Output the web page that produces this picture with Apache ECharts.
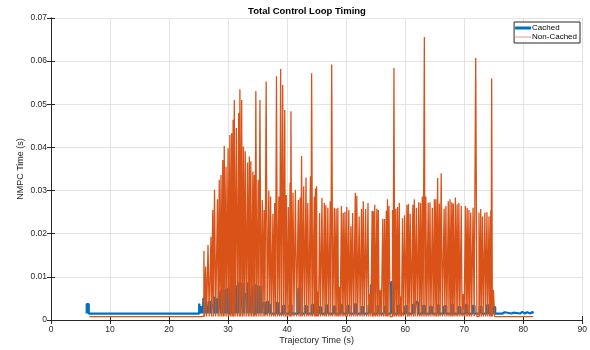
<!DOCTYPE html>
<html><head><meta charset="utf-8">
<script src="https://cdn.jsdelivr.net/npm/echarts@6/dist/echarts.min.js"></script>
<style>html,body{margin:0;padding:0;background:#fff}#c{width:590px;height:350px}</style>
</head><body><div id="c"></div>
<script>
// ---- data (seconds, seconds) ----
const xTickValues = [0, 10, 20, 30, 40, 50, 60, 70, 80, 90];
const yTickValues = [0, 0.01, 0.02, 0.03, 0.04, 0.05, 0.06, 0.07];

// Cached: baseline level, start/end of trace, spikes [time, value]
const cachedBase = 0.0015;
const cachedStart = 6.05;
const cachedEnd = 81.7;
const cachedSpikes = [
  [6.05,0.0037],[25.1,0.0038],[25.4,0.0030],[25.8,0.0050],[26.2,0.0030],[26.7,0.0042],[27.2,0.0035],
  [27.6,0.0054],[27.9,0.0048],[28.5,0.0065],[28.8,0.0070],[29.1,0.0072],[29.4,0.0070],[29.7,0.0072],
  [30.4,0.0088],[30.7,0.0091],[31.0,0.0080],[31.3,0.0078],[31.75,0.0085],[32.3,0.0083],[32.8,0.0060],
  [33.2,0.0085],[33.6,0.0055],[34.0,0.0075],[34.7,0.0083],[35.0,0.0080],[35.3,0.0077],[35.8,0.0040],
  [36.5,0.0042],[36.9,0.0035],[38.1,0.0040],[39.3,0.0033],[40.4,0.0035],[41.9,0.0073],[43.0,0.0032],
  [44.2,0.0035],[45.4,0.0030],[46.6,0.0034],[47.8,0.0031],[49.0,0.0035],[50.2,0.0033],[51.4,0.0036],
  [52.6,0.0030],[53.8,0.0034],[54.2,0.0081],[55.3,0.0033],[56.4,0.0031],[57.6,0.0088],[58.8,0.0034],
  [60.0,0.0032],[61.2,0.0035],[61.8,0.0042],[63.0,0.0033],[64.2,0.0031],[65.4,0.0034],[66.6,0.0032],
  [67.8,0.0035],[69.0,0.0030],[70.2,0.0035],[71.4,0.0033],[72.6,0.0031],[73.8,0.0034],[74.9,0.0030],
  [76.5,0.0018],[78.0,0.0017],[79.5,0.0019],[80.3,0.0018],[81.2,0.0019]
];

// Non-Cached
const nonCachedBase = 0.0008;
const nonCachedStart = 6.5;
const nonCachedEnd = 81.7;
const nonCachedSpikes = [
  [25.9,0.0160],[26.2,0.0124],[26.6,0.0174],[27.1,0.0193],[27.4,0.0255],[27.7,0.0302],[28.2,0.0280],
  [28.5,0.0325],[28.8,0.0336],[29.1,0.0371],[29.35,0.0404],[29.65,0.0355],[30.0,0.0398],[30.3,0.0429],
  [30.6,0.0433],[30.85,0.0464],[31.05,0.0510],[31.4,0.0445],[31.8,0.0480],[32.0,0.0535],[32.3,0.0510],
  [32.6,0.0402],[32.9,0.0391],[33.3,0.0365],[33.6,0.0379],[33.85,0.0368],[34.2,0.0344],[34.45,0.0336],
  [34.7,0.0531],[35.1,0.0325],[35.4,0.0510],[35.8,0.0278],[36.1,0.0255],[36.45,0.0553],[36.9,0.0300],
  [37.2,0.0286],[37.6,0.0246],[37.9,0.0271],[38.2,0.0565],[38.6,0.0286],[38.9,0.0582],[39.25,0.0545],
  [39.6,0.0487],[39.85,0.0290],[40.2,0.0262],[40.5,0.0318],[40.65,0.0484],[41.0,0.0295],[41.4,0.0302],
  [41.9,0.0278],[42.2,0.0284],[42.45,0.0380],[42.8,0.0310],[43.2,0.0330],[43.5,0.0271],[43.95,0.0333],
  [44.15,0.0572],[44.6,0.0286],[44.8,0.0305],[45.0,0.0310],[45.2,0.0066],[45.5,0.0248],[45.9,0.0283],
  [46.3,0.0271],[46.55,0.0266],[46.9,0.0260],[47.3,0.0275],[47.55,0.0592],[48.0,0.0260],[48.3,0.0258],
  [48.6,0.0260],[48.85,0.0077],[49.2,0.0264],[49.5,0.0248],[49.8,0.0251],[50.1,0.0262],[50.45,0.0255],
  [50.8,0.0217],[51.1,0.0248],[51.55,0.0295],[51.8,0.0288],[52.2,0.0240],[52.6,0.0257],[52.9,0.0275],
  [53.3,0.0257],[53.7,0.0271],[54.05,0.0060],[54.4,0.0253],[54.6,0.0252],[54.85,0.0267],[55.2,0.0258],
  [55.45,0.0255],[55.8,0.0070],[56.2,0.0234],[56.5,0.0234],[56.8,0.0253],[57.0,0.0280],[57.25,0.0264],
  [57.85,0.0255],[58.1,0.0584],[58.4,0.0258],[58.7,0.0262],[59.0,0.0271],[59.25,0.0055],[59.55,0.0236],
  [59.9,0.0243],[60.3,0.0267],[60.55,0.0269],[60.85,0.0246],[61.3,0.0267],[61.55,0.0280],[61.9,0.0260],
  [62.3,0.0273],[62.6,0.0271],[62.9,0.0286],[63.25,0.0656],[63.5,0.0286],[63.9,0.0271],[64.2,0.0273],
  [64.6,0.0260],[64.95,0.0280],[65.2,0.0280],[65.5,0.0329],[65.8,0.0270],[66.1,0.0340],[66.6,0.0258],
  [66.9,0.0264],[67.3,0.0275],[67.6,0.0280],[67.9,0.0273],[68.15,0.0270],[68.5,0.0284],[68.8,0.0268],
  [69.1,0.0271],[69.5,0.0264],[69.85,0.0060],[70.2,0.0264],[70.5,0.0260],[70.8,0.0255],[71.1,0.0249],
  [71.5,0.0260],[71.95,0.0607],[72.5,0.0249],[72.8,0.0257],[73.1,0.0240],[73.5,0.0249],[73.85,0.0250],
  [74.2,0.0240],[74.5,0.0255],[74.65,0.0560],[74.95,0.0070]
];

// ---- build step traces from the read values ----
// each spike holds its value for a short time (never longer than `frac` of the gap to
// the next spike), then drops back to the baseline
function trace(start, end, base, spikes, pulse, frac) {
  const d = [[start, base]];
  spikes.forEach(function (s, i) {
    d.push([s[0], s[1]]);
    const next = i + 1 < spikes.length ? spikes[i + 1][0] : end;
    d.push([s[0] + Math.min(pulse, (next - s[0]) * frac), base]);
  });
  d.push([end, base]);
  return d;
}
const BLUE = '#0072BD', ORANGE = '#D95319', AX = '#262626';
const cachedData = trace(cachedStart, cachedEnd, cachedBase, cachedSpikes, 0.35, 0.92);
const nonCachedData = trace(nonCachedStart, nonCachedEnd, nonCachedBase, nonCachedSpikes, 0.2, 0.4);

const font = '"Liberation Sans", Arial, Helvetica, sans-serif';
const chart = echarts.init(document.getElementById('c'), null, {renderer: 'canvas'});
const xMin = xTickValues[0], xMax = xTickValues[xTickValues.length - 1];
const xInt = xTickValues[1] - xTickValues[0];
const yMin = yTickValues[0], yMax = yTickValues[yTickValues.length - 1];
const yInt = yTickValues[1] - yTickValues[0];

chart.setOption({
  animation: false,
  backgroundColor: '#fff',
  textStyle: {fontFamily: font},
  title: {
    text: 'Total Control Loop Timing',
    left: 307, top: 6, padding: 0, textAlign: 'center',
    textStyle: {fontSize: 9.5, fontWeight: 'bold', color: '#000', fontFamily: font}
  },
  legend: {
    right: 10, top: 22, orient: 'vertical',
    itemWidth: 16, itemHeight: 3, itemGap: 1,
    padding: [2, 3, 2, 1],
    borderColor: AX, borderWidth: 1, backgroundColor: '#fff',
    textStyle: {fontSize: 8, color: '#000', padding: [0, 0, 0, -4], fontFamily: font},
    data: [
      {name: 'Cached', icon: 'rect', itemStyle: {color: BLUE}},
      {name: 'Non-Cached', icon: 'path://M0,1H16V2H0Z', itemStyle: {color: '#EC9A78'}}
    ]
  },
  grid: {left: 51, right: 6, top: 18, bottom: 30, show: false},
  xAxis: [{
    type: 'value', min: xMin, max: xMax, interval: xInt,
    name: 'Trajectory Time (s)', nameLocation: 'middle', nameGap: 16, nameMoveOverlap: false,
    nameTextStyle: {fontSize: 9, color: AX, fontFamily: font},
    axisLine: {show: true, onZero: false, lineStyle: {color: AX, width: 1}},
    axisTick: {show: true, inside: true, length: 4, lineStyle: {color: AX}},
    axisLabel: {fontSize: 8.5, color: AX, margin: 5, fontFamily: font},
    splitLine: {show: true, lineStyle: {color: '#e3e3e3', width: 1}}
  }, {
    type: 'value', position: 'top', min: xMin, max: xMax, interval: xInt,
    axisLine: {show: true, lineStyle: {color: AX, width: 1}},
    axisTick: {show: true, inside: true, length: 4, lineStyle: {color: AX}},
    axisLabel: {show: false}, splitLine: {show: false}
  }],
  yAxis: [{
    type: 'value', min: yMin, max: yMax, interval: yInt,
    name: 'NMPC Time (s)', nameLocation: 'middle', nameGap: 26, nameRotate: 90, nameMoveOverlap: false,
    nameTextStyle: {fontSize: 9, color: AX, fontFamily: font},
    axisLine: {show: true, lineStyle: {color: AX, width: 1}},
    axisTick: {show: true, inside: true, length: 4, lineStyle: {color: AX}},
    axisLabel: {fontSize: 8.5, color: AX, margin: 4, fontFamily: font,
      formatter: function (v) { return v === 0 ? '0' : v.toFixed(2); }},
    splitLine: {show: true, lineStyle: {color: '#e3e3e3', width: 1}}
  }, {
    type: 'value', position: 'right', min: yMin, max: yMax, interval: yInt,
    axisLine: {show: true, lineStyle: {color: AX, width: 1}},
    axisTick: {show: true, inside: true, length: 4, lineStyle: {color: AX}},
    axisLabel: {show: false}, splitLine: {show: false}
  }],
  series: [{
    name: 'Cached', type: 'line', step: 'end', data: cachedData,
    showSymbol: false, symbol: 'none', silent: true,
    lineStyle: {color: BLUE, width: 2.2, join: 'bevel'}, itemStyle: {color: BLUE}, z: 2
  }, {
    name: 'Non-Cached', type: 'line', step: 'end', data: nonCachedData,
    showSymbol: false, symbol: 'none', silent: true,
    lineStyle: {color: ORANGE, width: 1.3, join: 'bevel'}, itemStyle: {color: ORANGE}, z: 3
  }]
});
</script>
</body></html>
